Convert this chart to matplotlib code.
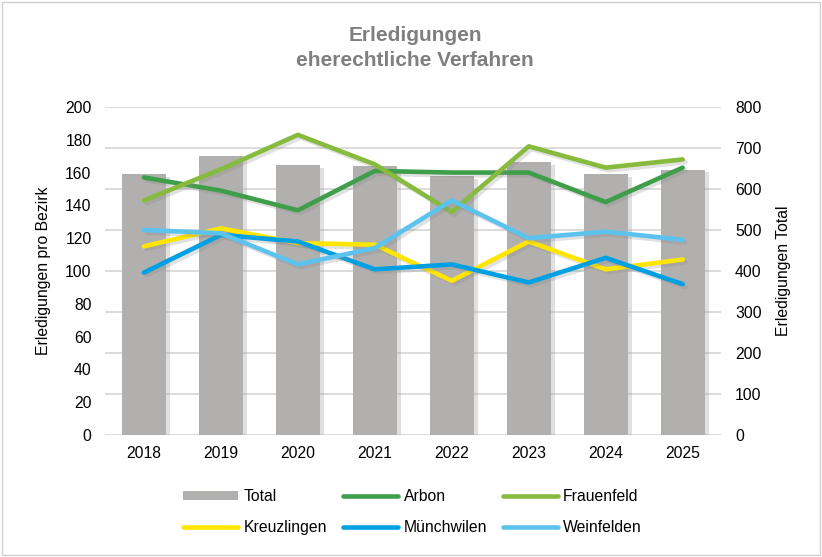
import matplotlib
matplotlib.use("Agg")
import matplotlib.pyplot as plt
import matplotlib.patheffects as pe
from matplotlib.patches import Rectangle
import numpy as np

plt.rcParams['font.family'] = ['Liberation Sans', 'DejaVu Sans']

years = ["2018", "2019", "2020", "2021", "2022", "2023", "2024", "2025"]
total = [637, 680, 658, 655, 632, 666, 637, 647]
arbon = [157, 149, 137, 161, 160, 160, 142, 163]
frauenfeld = [143, 162, 183, 165, 136, 176, 163, 168]
kreuzlingen = [115, 126, 117, 116, 94, 118, 101, 107]
muenchwilen = [99, 122, 118, 101, 104, 93, 108, 92]
weinfelden = [125, 123, 104, 114, 143, 120, 124, 119]

series = [
    ("Arbon", arbon, "#3f9e4a"),
    ("Frauenfeld", frauenfeld, "#86bb3d"),
    ("Kreuzlingen", kreuzlingen, "#ffe600"),
    ("Münchwilen", muenchwilen, "#00a0e2"),
    ("Weinfelden", weinfelden, "#5cc3ef"),
]

FS = 11.3

fig = plt.figure(figsize=(8.22, 5.57), dpi=100)
fig.patches.append(Rectangle((0.003, 0.003), 0.994, 0.994, transform=fig.transFigure,
                             fill=False, edgecolor="#d0d0d0", linewidth=1))

ax_bar = fig.add_axes([0.1283, 0.219, 0.749, 0.589])
ax = ax_bar.twinx()

x = np.arange(len(years))
bars = ax_bar.bar(x, total, width=0.57, color="#b1b0ae", label="Total", zorder=2)
for b in bars:
    b.set_path_effects([pe.SimplePatchShadow(offset=(3, -2), shadow_rgbFace="#9a9a9a", alpha=0.3),
                        pe.Normal()])
ax_bar.set_ylim(0, 800)
ax_bar.set_xlim(-0.5, 7.5)
ax_bar.set_yticks(np.arange(0, 801, 100))
ax_bar.yaxis.tick_right()
ax_bar.yaxis.set_label_position("right")
ax_bar.set_ylabel("Erledigungen Total", fontsize=FS, labelpad=10)
ax_bar.set_xticks(x)
ax_bar.set_xticklabels(years)
ax_bar.tick_params(axis="both", length=0, labelsize=FS, pad=10)
ax_bar.tick_params(axis="x", pad=8)
ax_bar.yaxis.grid(True, color="#d9d9d9", linewidth=1.3, zorder=0)
ax_bar.set_axisbelow(True)
for s in ax_bar.spines.values():
    s.set_visible(False)

handles = {"Total": bars}
for name, vals, col in series:
    ln, = ax.plot(x, vals, color=col, linewidth=3.3, solid_capstyle="round",
                  label=name,
                  path_effects=[pe.SimpleLineShadow(offset=(2, -2), shadow_color="#888888", alpha=0.25),
                                pe.Normal()])
    handles[name] = ln
ax.set_ylim(0, 200)
ax.set_yticks(np.arange(0, 201, 20))
ax.yaxis.tick_left()
ax.yaxis.set_label_position("left")
ax.set_ylabel("Erledigungen pro Bezirk", fontsize=FS, labelpad=10)
ax.tick_params(axis="both", length=0, labelsize=FS, pad=10)
for s in ax.spines.values():
    s.set_visible(False)

fig.text(0.505, 0.936, "Erledigungen", ha="center", va="center", fontsize=15,
         fontweight="bold", color="#7f7f7f")
fig.text(0.505, 0.892, "eherechtliche Verfahren", ha="center", va="center", fontsize=15,
         fontweight="bold", color="#7f7f7f")

# legend filled column-wise -> order so rows read Total, Arbon, Frauenfeld / Kreuzlingen, Münchwilen, Weinfelden
order = ["Total", "Kreuzlingen", "Arbon", "Münchwilen", "Frauenfeld", "Weinfelden"]
leg = fig.legend([handles[k] for k in order], order, ncol=3, loc="center",
                 bbox_to_anchor=(0.502, 0.081),
                 frameon=False, fontsize=FS, handlelength=3.5, columnspacing=1.0,
                 labelspacing=1.05, handletextpad=0.35, handleheight=0.5)
for h in leg.legend_handles:
    if hasattr(h, "set_path_effects"):
        h.set_path_effects([])

fig.savefig("out.png", dpi=100)
